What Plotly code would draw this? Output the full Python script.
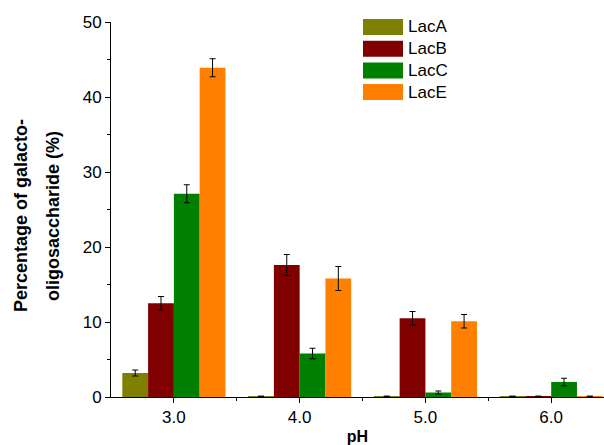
import plotly.graph_objects as go

ph = [3.0, 4.0, 5.0, 6.0]
ph_labels = ["3.0", "4.0", "5.0", "6.0"]
series = ["LacA", "LacB", "LacC", "LacE"]
lacA = [3.2, 0.1, 0.1, 0.1]
lacA_err = [0.4, 0, 0, 0]
lacB = [12.5, 17.6, 10.5, 0.1]
lacB_err = [0.9, 1.4, 0.9, 0]
lacC = [27.1, 5.8, 0.6, 2.0]
lacC_err = [1.2, 0.7, 0.2, 0.5]
lacE = [43.9, 15.8, 10.1, 0.1]
lacE_err = [1.2, 1.6, 0.9, 0]
colors = ["#808000", "#800000", "#008000", "#FF8000"]
y_title_lines = ["Percentage of galacto-", "oligosaccharide (%)"]

values = [lacA, lacB, lacC, lacE]
errors = [lacA_err, lacB_err, lacC_err, lacE_err]

L, T, W, H = 111, 22, 493, 375

fig = go.Figure()
for name, v, e, c in zip(series, values, errors, colors):
    fig.add_trace(go.Bar(
        x=ph, y=v, name=name, marker=dict(color=c, line=dict(width=0)),
        error_y=dict(type="data", array=e, color="black", thickness=1, width=3,
                     visible=True),
        showlegend=False,
    ))

font = "Liberation Sans, Arial, sans-serif"

# custom legend
for i, (name, c) in enumerate(zip(series, colors)):
    y0 = 19 + i * 21.7
    fig.add_shape(type="rect", xref="paper", yref="paper",
                  x0=(363 - L) / W, x1=(403 - L) / W,
                  y0=1 - (y0 + 16 - T) / H, y1=1 - (y0 - T) / H,
                  fillcolor=c, line=dict(width=0))
    fig.add_annotation(xref="paper", yref="paper", x=(406 - L) / W,
                       y=1 - (y0 + 8 - T) / H, text=name, showarrow=False,
                       xanchor="left", yanchor="middle",
                       font=dict(family=font, size=17, color="black"))

# y-axis title, two lines
for px, line in zip([21, 53], y_title_lines):
    fig.add_annotation(xref="paper", yref="paper", x=(px - L) / W,
                       y=1 - (216 - T) / H, text="<b>%s</b>" % line,
                       textangle=-90, showarrow=False,
                       xanchor="center", yanchor="middle",
                       font=dict(family=font, size=18, color="black"))

fig.update_layout(
    width=604, height=445,
    margin=dict(l=L, r=0, t=T, b=445 - T - H),
    plot_bgcolor="white", paper_bgcolor="white",
    barmode="group", bargap=0.18, bargroupgap=0,
    font=dict(family=font, size=17, color="black"),
    xaxis=dict(range=[2.5, 6.42], tickvals=ph, ticktext=ph_labels,
               automargin=False,
               showline=True, linecolor="black", linewidth=1,
               ticks="outside", ticklen=5, tickcolor="black",
               showgrid=False, zeroline=False,
               minor=dict(tickvals=[3.5, 4.5, 5.5], ticks="outside", ticklen=3,
                          tickcolor="black"),
               title=dict(text="<b>pH</b>", standoff=4,
                          font=dict(size=16))),
    yaxis=dict(range=[0, 50], tickvals=[0, 10, 20, 30, 40, 50],
               automargin=False,
               showline=True, linecolor="black", linewidth=1,
               ticks="outside", ticklen=5, tickcolor="black",
               showgrid=False, zeroline=False,
               minor=dict(tickvals=[5, 15, 25, 35, 45], ticks="outside",
                          ticklen=3, tickcolor="black")),
)

fig.write_html("out.html",
               config={"displayModeBar": False},
               post_script="document.body.style.margin='0';")
